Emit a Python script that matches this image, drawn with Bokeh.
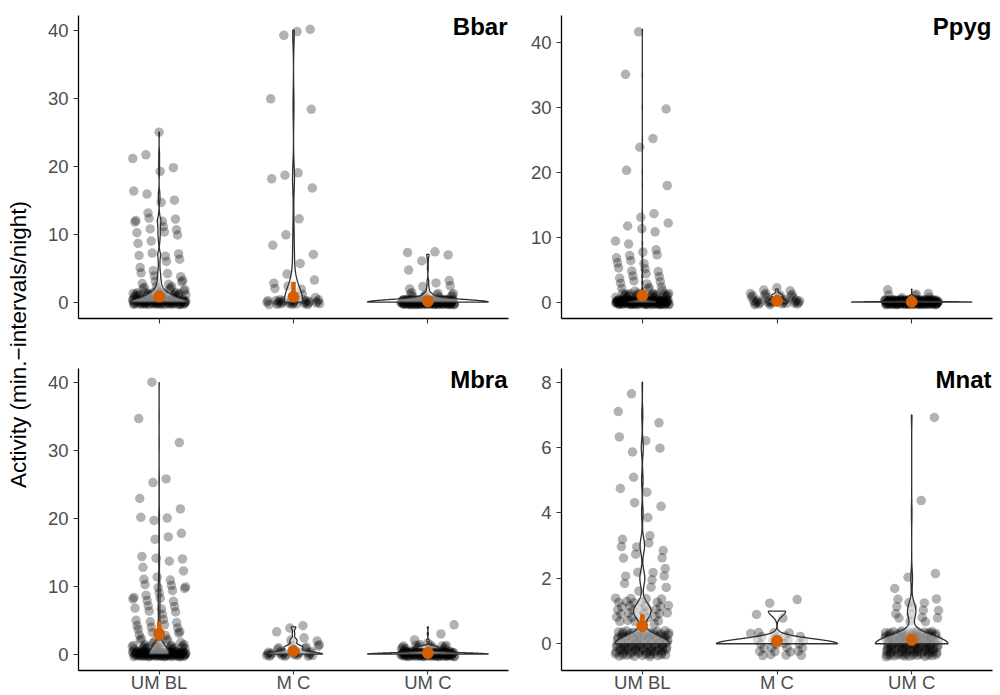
import numpy as np
from bokeh.plotting import figure
from bokeh.models import Range1d, FixedTicker, Label, ColumnDataSource
from bokeh.layouts import row, column
from bokeh.embed import file_html
from bokeh.resources import INLINE
from bokeh.core.properties import value

treatments = ["UM BL", "M C", "UM C"]

# Activity level (minute-intervals per night) and number of nights at each level
bbar_umbl_level = [25, 22, 21, 20, 19, 16, 15, 13, 12, 11, 10, 9, 7, 6, 5, 4, 3, 2, 1, 0]
bbar_umbl_nights = [1, 1, 1, 1, 1, 2, 2, 1, 5, 3, 3, 2, 4, 2, 2, 4, 5, 10, 30, 85]
bbar_mc_level = [40, 39, 30, 28, 19, 18, 17, 12, 10, 8, 7, 6, 4, 3, 2, 1, 0]
bbar_mc_nights = [2, 1, 1, 1, 2, 1, 1, 1, 1, 1, 1, 1, 1, 2, 3, 2, 30]
bbar_umc_level = [7, 6, 5, 3, 2, 1, 0]
bbar_umc_nights = [3, 1, 1, 2, 3, 12, 150]

ppyg_umbl_level = [42, 35, 30, 25, 24, 20, 18, 14, 13, 12, 11, 9, 8, 7, 6, 5, 4, 3, 2, 1, 0]
ppyg_umbl_nights = [1, 1, 1, 1, 1, 1, 1, 1, 1, 2, 2, 2, 2, 3, 3, 4, 4, 4, 6, 30, 120]
ppyg_mc_level = [2, 1, 0]
ppyg_mc_nights = [3, 12, 25]
ppyg_umc_level = [2, 1, 0]
ppyg_umc_nights = [1, 6, 150]

mbra_umbl_level = [40, 35, 31, 26, 25, 23, 21, 20, 18, 17, 14, 13, 12, 11, 10, 9, 8, 7, 6, 5, 4, 3, 2, 1, 0]
mbra_umbl_nights = [1, 1, 1, 1, 1, 1, 1, 3, 1, 2, 4, 1, 1, 3, 5, 3, 5, 4, 3, 4, 5, 5, 7, 25, 100]
mbra_mc_level = [4, 3, 2, 1, 0]
mbra_mc_nights = [2, 1, 3, 8, 25]
mbra_umc_level = [4, 3, 2, 1, 0]
mbra_umc_nights = [1, 1, 2, 20, 110]

mnat_umbl_level = [8, 7, 6, 5, 4, 3, 2, 1, 0]
mnat_umbl_nights = [1, 2, 4, 3, 3, 9, 10, 35, 110]
mnat_mc_level = [1, 0]
mnat_mc_nights = [4, 28]
mnat_umc_level = [7, 4, 2, 1, 0]
mnat_umc_nights = [1, 1, 3, 15, 130]

# Model estimates with lower / upper interval, per treatment
bbar_est = [0.8, 0.8, 0.1]
bbar_est_lo = [0.4, 0.3, 0.05]
bbar_est_hi = [1.7, 3.0, 0.2]
ppyg_est = [1.0, 0.2, 0.05]
ppyg_est_lo = [0.6, 0.1, 0.02]
ppyg_est_hi = [1.4, 0.4, 0.1]
mbra_est = [3.0, 0.45, 0.15]
mbra_est_lo = [1.9, 0.3, 0.1]
mbra_est_hi = [4.8, 0.6, 0.2]
mnat_est = [0.55, 0.09, 0.12]
mnat_est_lo = [0.35, 0.05, 0.08]
mnat_est_hi = [0.9, 0.15, 0.18]

bbar_ticks = [0, 10, 20, 30, 40]
ppyg_ticks = [0, 10, 20, 30, 40]
mbra_ticks = [0, 10, 20, 30, 40]
mnat_ticks = [0, 2, 4, 6, 8]

FONT = "Liberation Sans"
ORANGE = "#D55E00"


def expand(levels, nights):
    return np.repeat(np.asarray(levels, float), nights)


def density(x, n_grid=512):
    """Gaussian KDE with Silverman's nrd0 bandwidth, trimmed to the data range."""
    n = x.size
    sd = x.std(ddof=1)
    q25, q75 = np.percentile(x, [25, 75])
    lo = min(sd, (q75 - q25) / 1.34)
    if lo == 0:
        lo = sd if sd > 0 else (abs(x[0]) if x[0] != 0 else 1.0)
    bw = 0.9 * lo * n ** -0.2
    grid = np.linspace(x.min(), x.max(), n_grid)
    z = (grid[:, None] - x[None, :]) / bw
    dens = np.exp(-0.5 * z ** 2).sum(axis=1) / (n * bw * np.sqrt(2 * np.pi))
    return grid, dens


def jitter(n, k):
    # deterministic low-discrepancy jitter: +-0.2 horizontally, +-0.4 vertically
    i = np.arange(n)
    u = (0.5 + k * 0.311 + i * 0.7548776662) % 1.0
    v = (0.5 + k * 0.173 + i * 0.5698402910) % 1.0
    return (2 * u - 1) * 0.2, (2 * v - 1) * 0.4


def style_axis(ax):
    ax.axis_line_color = "black"
    ax.axis_line_width = 1.3
    ax.major_tick_line_color = "#333333"
    ax.major_tick_line_width = 1.1
    ax.major_tick_out = 5
    ax.major_tick_in = 0
    ax.minor_tick_line_color = None
    ax.major_label_text_font = FONT
    ax.major_label_text_font_size = "18.5px"
    ax.major_label_text_color = "#4D4D4D"


def panel(name, data, est, est_lo, est_hi, ticks, width, height, borders,
          show_labels, seed):
    pos = np.arange(1, len(treatments) + 1, dtype=float)

    px, py = [], []
    for gi, vals in enumerate(data):
        dx, dy = jitter(vals.size, seed * 3 + gi)
        px.append(pos[gi] + dx)
        py.append(vals + dy)
    px = np.concatenate(px)
    py = np.concatenate(py)

    lo = min(py.min(), min(v.min() for v in data))
    hi = max(py.max(), max(v.max() for v in data))
    pad = 0.05 * (hi - lo)

    left, right, top, bottom = borders
    p = figure(width=width, height=height, output_backend="svg",
               toolbar_location=None, x_range=Range1d(0.4, 3.6),
               y_range=Range1d(lo - pad, hi + pad),
               min_border_left=left, min_border_right=right,
               min_border_top=top, min_border_bottom=bottom)
    p.grid.visible = False
    p.outline_line_color = None

    # jittered nights
    p.scatter(px, py, size=9.5, fill_color="black", fill_alpha=0.3,
              line_color=None)

    # violins, area-scaled within the panel
    shapes = [density(v) for v in data]
    dmax = max(d.max() for _, d in shapes)
    vx, vy = [], []
    for gi, (grid, dens) in enumerate(shapes):
        w = dens / dmax * 0.45
        vx.append(np.concatenate([pos[gi] - w, (pos[gi] + w)[::-1]]))
        vy.append(np.concatenate([grid, grid[::-1]]))
    p.patches(vx, vy, fill_color="white", fill_alpha=0.5,
              line_color="#303030", line_width=1.3)

    # estimates with intervals
    src = ColumnDataSource(dict(x=pos, est=est, lo=est_lo, hi=est_hi))
    p.segment(x0="x", y0="lo", x1="x", y1="hi", source=src,
              line_color=ORANGE, line_width=4.5)
    p.scatter("x", "est", source=src, size=11, fill_color=ORANGE,
              line_color=ORANGE)

    style_axis(p.xaxis[0])
    style_axis(p.yaxis[0])
    p.yaxis.ticker = FixedTicker(ticks=ticks)
    p.yaxis.major_label_standoff = 5
    if show_labels:
        p.xaxis.ticker = FixedTicker(ticks=list(pos))
        p.xaxis.major_label_overrides = {float(x): t for x, t in zip(pos, treatments)}
        p.xaxis.major_tick_out = 4
        p.xaxis.major_label_standoff = -3
    else:
        # tick marks only, no treatment names on the upper row
        p.xaxis.ticker = FixedTicker(ticks=[], minor_ticks=list(pos))
        p.xaxis.minor_tick_line_color = "#333333"
        p.xaxis.minor_tick_line_width = 1.1
        p.xaxis.minor_tick_out = 5
        p.xaxis.minor_tick_in = 0

    p.add_layout(Label(x=3.6, y=hi + pad, text=name, text_font=FONT,
                       text_font_style="bold", text_font_size="24px",
                       text_color="black", text_align="right",
                       text_baseline="top", x_offset=-1, y_offset=3))
    return p


bbar = [expand(bbar_umbl_level, bbar_umbl_nights),
        expand(bbar_mc_level, bbar_mc_nights),
        expand(bbar_umc_level, bbar_umc_nights)]
ppyg = [expand(ppyg_umbl_level, ppyg_umbl_nights),
        expand(ppyg_mc_level, ppyg_mc_nights),
        expand(ppyg_umc_level, ppyg_umc_nights)]
mbra = [expand(mbra_umbl_level, mbra_umbl_nights),
        expand(mbra_mc_level, mbra_mc_nights),
        expand(mbra_umc_level, mbra_umc_nights)]
mnat = [expand(mnat_umbl_level, mnat_umbl_nights),
        expand(mnat_mc_level, mnat_mc_nights),
        expand(mnat_umc_level, mnat_umc_nights)]

p1 = panel("Bbar", bbar, bbar_est, bbar_est_lo, bbar_est_hi, bbar_ticks,
           485, 343, (38, 17, 15, 25), False, 0)
p2 = panel("Ppyg", ppyg, ppyg_est, ppyg_est_lo, ppyg_est_hi, ppyg_ticks,
           475, 343, (36, 8, 15, 25), False, 1)
p3 = panel("Mbra", mbra, mbra_est, mbra_est_lo, mbra_est_hi, mbra_ticks,
           485, 352, (38, 17, 25, 25), True, 2)
p4 = panel("Mnat", mnat, mnat_est, mnat_est_lo, mnat_est_hi, mnat_ticks,
           475, 352, (36, 8, 25, 25), True, 3)

# shared y-axis title
lab = figure(width=40, height=695, output_backend="svg", toolbar_location=None,
             x_range=Range1d(0, 40), y_range=Range1d(0, 695),
             x_axis_location=None, y_axis_location=None, min_border=0)
lab.grid.visible = False
lab.outline_line_color = None
lab.text(x=[18], y=[351], text=["Activity (min.\u2212intervals/night)"],
         angle=np.pi / 2, text_align="center", text_baseline="middle",
         text_font=value(FONT), text_font_size="22.5px", text_color="black")

layout = row(lab, column(row(p1, p2), row(p3, p4)))

with open("out.html", "w") as f:
    f.write(file_html(layout, INLINE))
